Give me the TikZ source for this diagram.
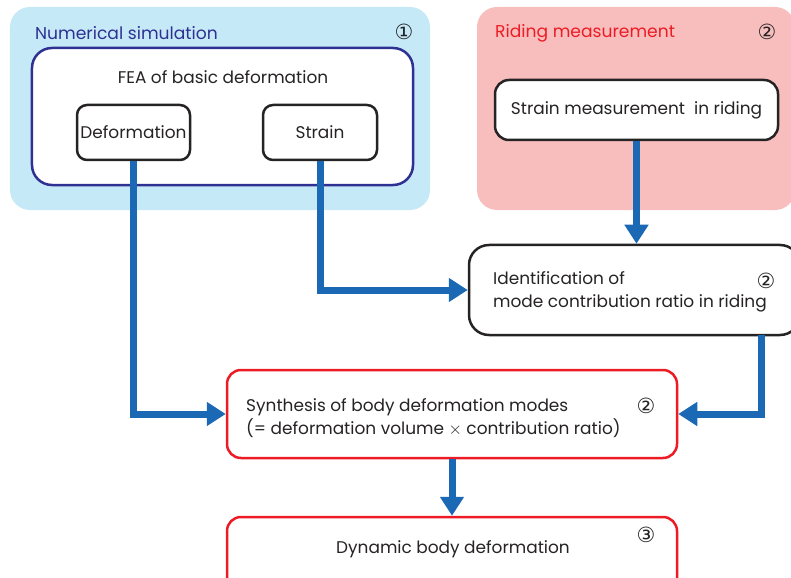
\documentclass[tikz,border=0pt]{standalone}
\usepackage{fontspec}
\setmainfont{Poppins}
\newfontfamily\circfont{DejaVu Sans}
\usetikzlibrary{arrows.meta,positioning}
\definecolor{simblue}{HTML}{C6E9F8}
\definecolor{simnavy}{HTML}{2E3192}
\definecolor{ridepink}{HTML}{F8BEBE}
\definecolor{ridered}{HTML}{ED1C24}
\definecolor{flowblue}{HTML}{1B69B4}
\definecolor{ink}{HTML}{262324}

\begin{document}
\begin{tikzpicture}[x=1bp,y=-1bp,
  panel/.style={rounded corners=20bp,inner sep=0pt},
  block/.style={draw=ink,line width=2.5bp,fill=white,rounded corners=10bp,inner sep=0pt},
  redblock/.style={block,draw=ridered,rounded corners=14bp},
  txt/.style={font=\fontsize{17}{23.5}\selectfont,text=ink,inner sep=0pt},
  head/.style={font=\fontsize{17.2}{20}\selectfont,inner sep=0pt,anchor=west},
  num/.style={font=\circfont\fontsize{21}{22}\selectfont,text=ink,inner sep=0pt},
  flow/.style={flowblue,line width=7bp,-{Triangle[length=19bp,width=23bp]}}]
  \useasboundingbox (0,0) rectangle (791,578);
  \clip (0,0) rectangle (791,578);

  % Numerical simulation panel
  \node[panel,fill=simblue,minimum width=420bp,minimum height=203bp] (simpanel) at (220,108.5) {};
  \node[head,text=simnavy] (simhead) at (35,33) {Numerical simulation};
  \node[num] (simnum) at (404,32) {①};
  \node[block,draw=simnavy,rounded corners=20bp,minimum width=381bp,minimum height=137bp] (feabox) at (222.5,116.5) {};
  \node[txt] (featxt) at (223,77) {FEA of basic deformation};
  \node[block,minimum width=113bp,minimum height=55bp] (defbox) at (133.5,132.5) {};
  \node[txt] (deftxt) at (defbox) {Deformation};
  \node[block,minimum width=114bp,minimum height=55bp] (strainbox) at (320,132.5) {};
  \node[txt] (straintxt) at (strainbox) {Strain};

  % Riding measurement panel
  \node[panel,fill=ridepink,minimum width=318bp,minimum height=203bp] (ridepanel) at (636,108.5) {};
  \node[head,text=ridered] (ridehead) at (495,33) {Riding measurement};
  \node[num] (ridenum) at (767,32) {②};
  \node[block,rounded corners=14bp,minimum width=283bp,minimum height=60bp] (smeasbox) at (636.5,110) {};
  \node[txt] (smeastxt) at (smeasbox) {Strain measurement\ \ in riding};

  % identification of mode contribution
  \node[block,rounded corners=20bp,minimum width=331bp,minimum height=90bp] (identbox) at (634.5,290) {};
  \node[txt,anchor=west,align=left] (identtxt) at (493,292) {Identification of\\mode contribution ratio in riding};
  \node[num] (identnum) at (766,281) {②};
  \coordinate (identout) at (761,335);

  % synthesis and result
  \node[redblock,minimum width=450bp,minimum height=88bp] (synthbox) at (452,414) {};
  \node[txt,anchor=west,align=left] (synthtxt) at (246,418) {Synthesis of body deformation modes\\(= deformation volume $\times$ contribution ratio)};
  \node[num] (synthnum) at (646,406) {②};
  \node[redblock,minimum width=450bp,minimum height=83bp] (dynbox) at (452,558.5) {};
  \node[txt] (dyntxt) at (453,549) {Dynamic body deformation};
  \node[num] (dynnum) at (646,535) {③};

  % flow arrows
  \draw[flow] (defbox.south) |- (synthbox.west);
  \draw[flow] (strainbox.south) |- (identbox.west);
  \draw[flow] (smeasbox.south) -- (smeasbox.south |- identbox.north);
  \draw[flow] (identout) |- (synthbox.east);
  \draw[flow] (synthbox.south) -- (dynbox.north);
\end{tikzpicture}
\end{document}
